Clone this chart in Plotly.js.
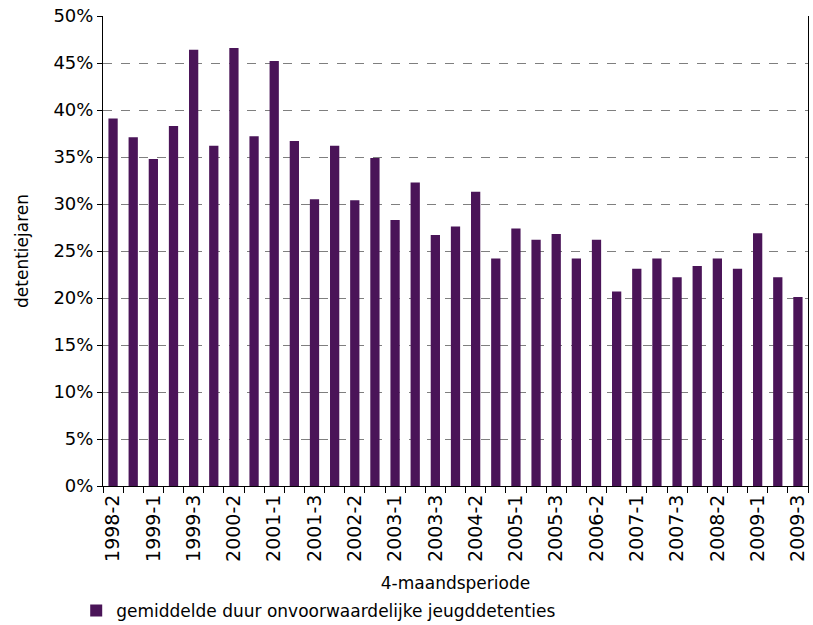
<!DOCTYPE html>
<html>
<head>
<meta charset="utf-8">
<script src="https://cdn.plot.ly/plotly-3.0.1.min.js"></script>
<style>
html,body{margin:0;padding:0;background:#fff;}
#chart{width:813px;height:625px;}
</style>
</head>
<body>
<div id="chart"></div>
<script>
var periods = [
  "1998-2","1998-3",
  "1999-1","1999-2","1999-3",
  "2000-1","2000-2","2000-3",
  "2001-1","2001-2","2001-3",
  "2002-1","2002-2","2002-3",
  "2003-1","2003-2","2003-3",
  "2004-1","2004-2","2004-3",
  "2005-1","2005-2","2005-3",
  "2006-1","2006-2","2006-3",
  "2007-1","2007-2","2007-3",
  "2008-1","2008-2","2008-3",
  "2009-1","2009-2","2009-3"
];
var durationPct = [
  39.1, 37.1,
  34.8, 38.3, 46.4,
  36.2, 46.6, 37.2,
  45.2, 36.7, 30.5,
  36.2, 30.4, 34.9,
  28.3, 32.3, 26.7,
  27.6, 31.3, 24.2,
  27.4, 26.2, 26.8,
  24.2, 26.2, 20.7,
  23.1, 24.2, 22.2,
  23.4, 24.2, 23.1,
  26.9, 22.2, 20.1
];
var tickLabels = periods.map(function(p, i){ return i % 2 === 0 ? p : ""; });
var yTicks = [0,5,10,15,20,25,30,35,40,45,50];
var yTickLabels = ["0%","5%","10%","15%","20%","25%","30%","35%","40%","45%","50%"];
var seriesName = "gemiddelde duur onvoorwaardelijke jeugddetenties";

var font = "DejaVu Sans, Verdana, sans-serif";

Plotly.newPlot("chart", [{
  type: "bar",
  x: periods,
  y: durationPct,
  name: seriesName,
  marker: {color: "#4a1458", line: {width: 0}},
  showlegend: true
}], {
  width: 813, height: 625,
  margin: {l: 103, r: 5, t: 16, b: 139, autoexpand: false},
  paper_bgcolor: "#fff",
  plot_bgcolor: "#fff",
  bargap: 0.54,
  font: {family: font, size: 17, color: "#000"},
  xaxis: {
    type: "category",
    tickmode: "array",
    tickvals: periods,
    ticktext: tickLabels,
    tickangle: -90,
    tickson: "boundaries",
    ticks: "outside",
    ticklen: 6,
    tickcolor: "#000",
    showline: true,
    linecolor: "#000",
    linewidth: 1,
    showgrid: false,
    tickfont: {family: font, size: 19},
    title: {text: "4-maandsperiode", font: {family: font, size: 17}, standoff: 16},
    automargin: true
  },
  yaxis: {
    range: [0, 50],
    tickmode: "array",
    tickvals: yTicks,
    ticktext: yTickLabels,
    ticks: "outside",
    ticklen: 5,
    tickcolor: "#000",
    showline: true,
    linecolor: "#000",
    linewidth: 1,
    mirror: true,
    showgrid: true,
    gridcolor: "#7f7f7f",
    griddash: "dash",
    gridwidth: 1,
    zeroline: false,
    tickfont: {family: font, size: 18},
    title: {text: "detentiejaren", font: {family: font, size: 17}, standoff: 20},
    automargin: true
  },
  legend: {
    orientation: "h",
    x: -0.038, xanchor: "left",
    y: -0.266, yanchor: "middle",
    font: {family: font, size: 17},
    itemwidth: 30
  }
}, {displayModeBar: false, staticPlot: true});
</script>
</body>
</html>
